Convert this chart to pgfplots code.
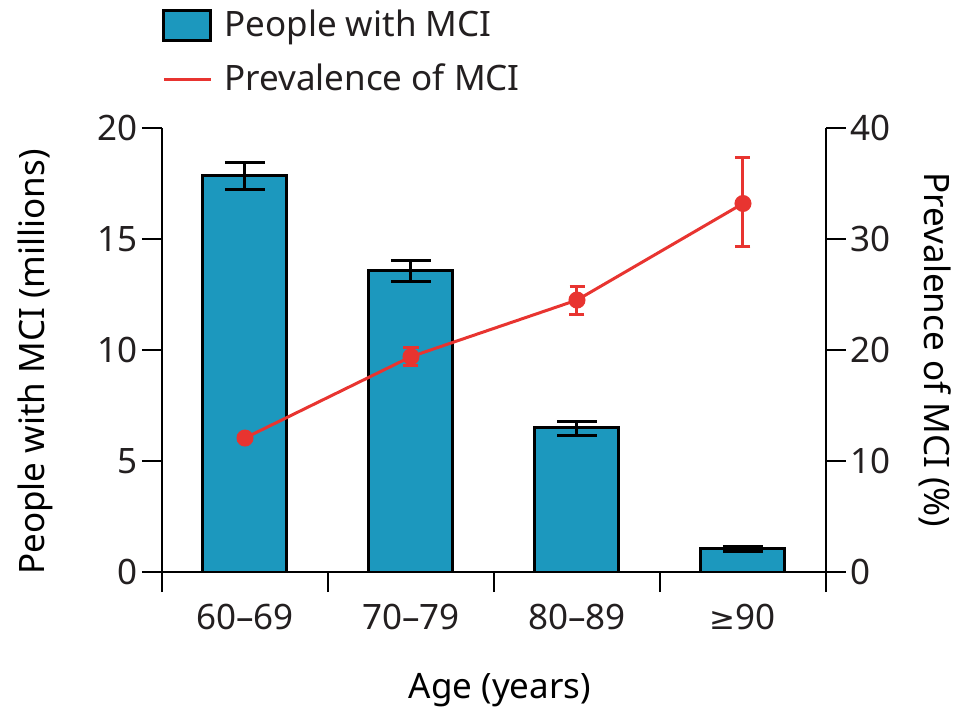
\documentclass[border=0pt]{standalone}
\usepackage{fontspec}
\setmainfont{Noto Sans}
\newfontfamily\dejavu{DejaVu Sans}
\usepackage{pgfplots}
\pgfplotsset{compat=1.18}
\definecolor{barblue}{RGB}{28,152,190}
\definecolor{linered}{RGB}{232,52,48}
\definecolor{txt}{RGB}{35,31,32}
\begin{document}
\fontsize{17.5}{21}\selectfont
\begin{tikzpicture}
\useasboundingbox (-81pt,-73.5pt) rectangle (406pt,286pt);
\pgfplotsset{
  common/.style={
    scale only axis, width=332pt, height=222pt,
    xmin=0, xmax=4,
    axis line style={line width=1.2pt, -, black},
    tick style={line width=1.2pt, black},
    tick align=outside,
    major tick length=10pt,
    /pgf/number format/assume math mode=true,
    tick label style={font=\fontsize{17.5}{21}\selectfont, text=txt},
    label style={font=\fontsize{17.5}{21}\selectfont, text=txt},
  }
}
\begin{axis}[common,
  ymin=0, ymax=20,
  axis x line*=bottom, axis y line*=left,
  xtick={0,1,2,3,4}, xticklabels={},
  extra x ticks={0.5,1.5,2.5,3.5},
  extra x tick labels={60–69,70–79,80–89,{\dejavu\fontsize{15.5}{18}\selectfont ≥}90},
  extra x tick style={major tick length=0pt, tick label style={yshift=-10pt}},
  ytick={0,5,10,15,20},
  yticklabel style={inner sep=2pt},
  xlabel={Age (years)},
  ylabel={People with MCI (millions)},
  every axis x label/.style={at={(rel axis cs:0.5,0)}, xshift=3pt, yshift=-59pt, anchor=center},
  every axis y label/.style={at={(rel axis cs:0,0.473)}, xshift=-63.5pt, rotate=90, anchor=center},
]
\addplot[ybar, bar width=42pt, fill=barblue, draw=black, line width=1.5pt,
  error bars/.cd, y dir=both, y explicit,
  error bar style={line width=1.5pt, black},
  error mark options={rotate=90, black, line width=1.5pt, mark size=10pt}]
  coordinates {
    (0.5,17.84) += (0,0.60) -= (0,0.59)
    (1.5,13.57) += (0,0.48) -= (0,0.47)
    (2.5,6.49)  += (0,0.31) -= (0,0.32)
    (3.5,1.04)  += (0,0.12) -= (0,0.12)
  };
\end{axis}
\begin{axis}[common,
  ymin=0, ymax=40,
  axis x line=none, axis y line*=right,
  ytick={0,10,20,30,40},
  yticklabel style={inner sep=2pt},
  ylabel={Prevalence of MCI (\%)},
  every axis y label/.style={at={(rel axis cs:1,0.5)}, xshift=54.5pt, rotate=-90, anchor=center},
  legend style={at={(0,1)}, anchor=south west, xshift=0pt, yshift=14pt,
    draw=none, fill=none, inner sep=0pt, row sep=7pt,
    font=\fontsize{17.5}{21}\selectfont, text=txt,
    cells={anchor=west}},
  legend cell align=left,
]
\addlegendimage{legend image code/.code={\draw[fill=barblue, draw=black, line width=1.5pt] (0pt,-7.5pt) rectangle (23.5pt,7.5pt);}}
\addlegendentry{\hspace{4pt}People with MCI}
\addplot[linered, line width=1.5pt, mark=*, mark size=3.5pt,
  mark options={fill=linered, draw=linered, solid},
  legend image code/.code={\draw[linered, line width=1.5pt] (0pt,0pt) -- (23.5pt,0pt);},
  error bars/.cd, y dir=both, y explicit,
  error bar style={line width=1.5pt, linered},
  error mark options={rotate=90, linered, line width=1.5pt, mark size=3.75pt}]
  coordinates {
    (0.5,12.07) += (0,0.2) -= (0,0.2)
    (1.5,19.4)  += (0,0.8) -= (0,0.8)
    (2.5,24.5)  += (0,1.2) -= (0,1.3)
    (3.5,33.2)  += (0,4.1) -= (0,3.9)
  };
\addlegendentry{\hspace{4pt}Prevalence of MCI}
\end{axis}
\end{tikzpicture}
\end{document}
